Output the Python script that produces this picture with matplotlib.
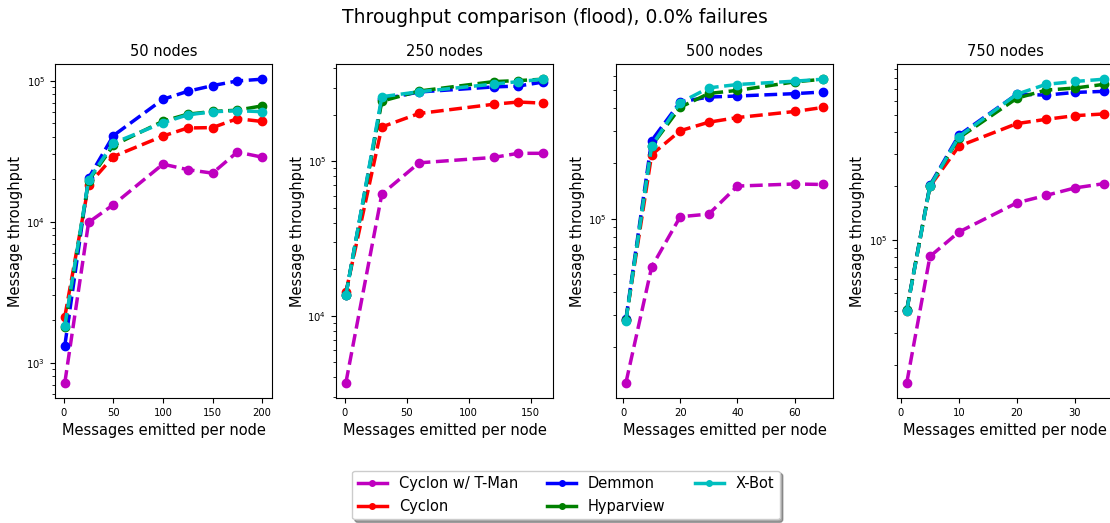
import numpy as np
import matplotlib
matplotlib.use('Agg')
import matplotlib.pyplot as plt
from matplotlib.lines import Line2D
from matplotlib.ticker import MultipleLocator

protocols = ['Cyclon w/ T-Man', 'Cyclon', 'Demmon', 'Hyparview', 'X-Bot']
colors = ['m', 'r', 'b', 'g', 'c']
node_counts = [50, 250, 500, 750]

# messages emitted per node, one list per panel
x_50 = [1, 25, 50, 100, 125, 150, 175, 200]
x_250 = [1, 30, 60, 120, 140, 160]
x_500 = [1, 10, 20, 30, 40, 60, 70]
x_750 = [1, 5, 10, 20, 25, 30, 35]
xtick_steps = [50, 50, 20, 10]

# throughput values
tp_50 = [
    [720, 9900, 13200, 25600, 23400, 22100, 31200, 28700],
    [2120, 18300, 29000, 40500, 46200, 46500, 53800, 51400],
    [1320, 20400, 40800, 73800, 84100, 92300, 99600, 102500],
    [1790, 19500, 34800, 51600, 57900, 60500, 61800, 66300],
    [1830, 19800, 36100, 50300, 57300, 60200, 61300, 60300],
]
tp_250 = [
    [3690, 61400, 97800, 106000, 112700, 112700],
    [14200, 167000, 204000, 234000, 242000, 238000],
    [13700, 252000, 281000, 303000, 307000, 326000],
    [13700, 245000, 285000, 328000, 333000, 340000],
    [13600, 262000, 282000, 316000, 328000, 340000],
]
tp_500 = [
    [12800, 54600, 102500, 106000, 150500, 154500, 153500],
    [28100, 223000, 301000, 335000, 355000, 383000, 403000],
    [28500, 266000, 432000, 459000, 465000, 479000, 489000],
    [28000, 249000, 404000, 480000, 499000, 555000, 574000],
    [27900, 249000, 428000, 515000, 537000, 560000, 574000],
]
tp_750 = [
    [15800, 80600, 110500, 161000, 177000, 195000, 206000],
    [40100, 199000, 334000, 447000, 472000, 495000, 506000],
    [40500, 202000, 385000, 653000, 645000, 668000, 677000],
    [40500, 200000, 372000, 620000, 688000, 707000, 741000],
    [40000, 199000, 378000, 653000, 741000, 769000, 792000],
]

xs = [x_50, x_250, x_500, x_750]
tps = [tp_50, tp_250, tp_500, tp_750]

fig = plt.figure(figsize=(11.1, 5.23), dpi=100)
fig.suptitle('Throughput comparison (flood), 0.0% failures', fontsize=13.5, y=0.985)

lefts = [0.0495, 0.3027, 0.555, 0.808]
for i in range(4):
    ax = fig.add_axes([lefts[i], 0.239, 0.1955, 0.6386])
    for j in range(len(protocols)):
        ax.plot(xs[i], tps[i][j], color=colors[j], linestyle='--', linewidth=2.5,
                marker='o', markersize=6)
    ax.set_yscale('log')
    ax.xaxis.set_major_locator(MultipleLocator(xtick_steps[i]))
    ax.set_title('%d nodes' % node_counts[i], fontsize=10.5)
    ax.set_xlabel('Messages emitted per node', fontsize=10.5)
    ax.set_ylabel('Message throughput', fontsize=10.5)
    ax.yaxis.set_label_coords(-0.145, 0.5)
    ax.tick_params(labelsize=7.2)

handles = [Line2D([0], [0], color=c, linewidth=2.5, marker='o', markersize=4)
           for c in colors]
fig.legend(handles, protocols, loc='center', bbox_to_anchor=(566 / 1110, 1 - 495 / 523),
           ncol=3, shadow=True, fontsize=10.5)

plt.savefig('out.png', dpi=100)
